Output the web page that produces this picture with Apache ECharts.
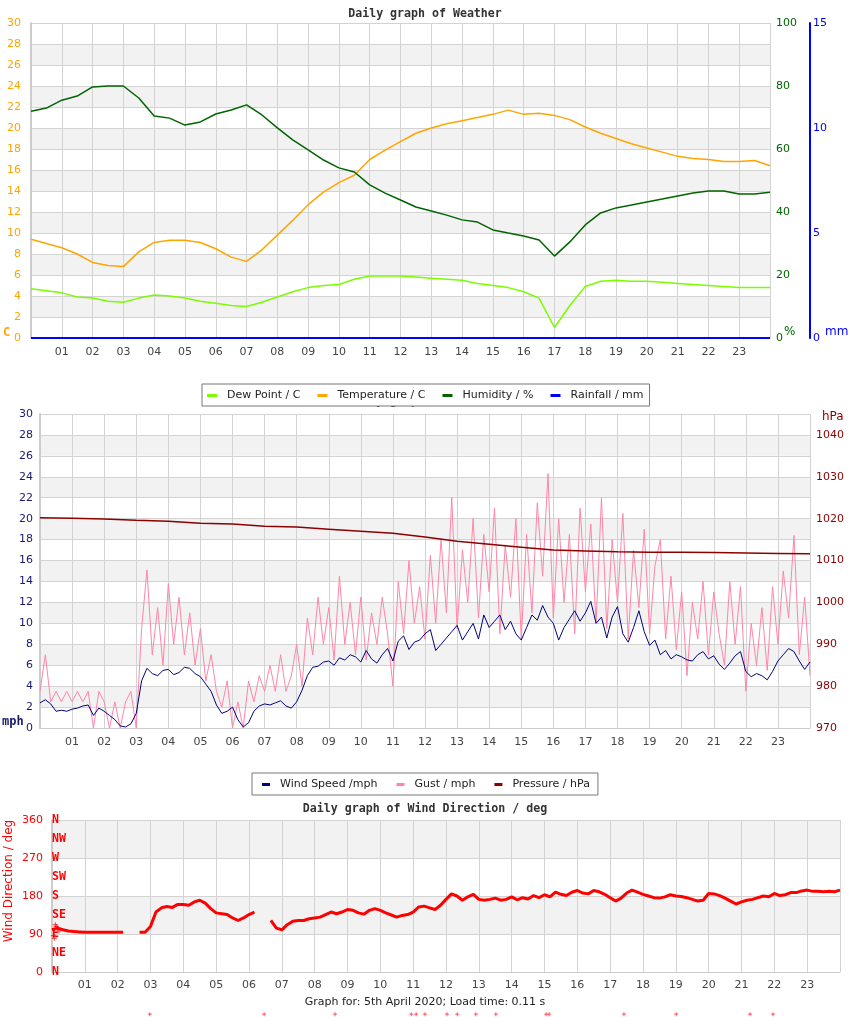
<!DOCTYPE html>
<html><head><meta charset="utf-8">
<script src="https://cdn.jsdelivr.net/npm/echarts@6/dist/echarts.min.js"></script>
<style>html,body{margin:0;padding:0;background:#fff}#c{width:850px;height:1017px}</style>
</head><body><div id="c"></div>
<script>
// ---------- DATA ----------
const hourLabels = ['01','02','03','04','05','06','07','08','09','10','11','12','13','14','15','16','17','18','19','20','21','22','23'];

// 30-minute readings, 00:00 .. 24:00
const dewPoint = [4.7,4.5,4.3,3.9,3.8,3.5,3.4,3.8,4.1,4.0,3.8,3.5,3.3,3.1,3.0,3.4,3.9,4.4,4.8,5.0,5.1,5.6,5.9,5.9,5.9,5.8,5.7,5.6,5.5,5.2,5.0,4.8,4.4,3.8,1.0,3.1,4.9,5.4,5.5,5.4,5.4,5.3,5.2,5.1,5.0,4.9,4.8,4.8,4.8];
const temperature = [9.4,9.0,8.6,8.0,7.2,6.9,6.8,8.2,9.1,9.3,9.3,9.1,8.5,7.7,7.3,8.4,9.8,11.2,12.7,13.9,14.8,15.5,17.0,17.9,18.7,19.5,20.0,20.4,20.7,21.0,21.3,21.7,21.3,21.4,21.2,20.8,20.1,19.5,19.0,18.5,18.1,17.7,17.3,17.1,17.0,16.8,16.8,16.9,16.4];
const humidity = [72,73,75.5,76.8,79.7,80,80,76.2,70.5,69.8,67.6,68.6,71.1,72.4,74,70.8,66.7,62.9,59.7,56.5,54,52.7,48.6,46,43.8,41.6,40.3,39,37.5,36.8,34.3,33.3,32.4,31.1,26,30.5,35.9,39.7,41.3,42.2,43.2,44.1,45.1,46,46.7,46.7,45.7,45.7,46.3];
// hourly
const rainfall = [0,0,0,0,0,0,0,0,0,0,0,0,0,0,0,0,0,0,0,0,0,0,0,0,0];
const pressure = [1020.2,1020.1,1019.9,1019.6,1019.4,1018.9,1018.7,1018.2,1018.0,1017.5,1017.0,1016.5,1015.6,1014.6,1013.9,1013.2,1012.5,1012.3,1012.1,1012.0,1011.95,1011.9,1011.8,1011.7,1011.6];
// 10-minute readings, 00:00 .. 24:00
const windSpeed = [2.4,2.7,2.3,1.6,1.7,1.6,1.8,1.9,2.1,2.2,1.2,1.9,1.6,1.2,0.8,0.2,0.1,0.4,1.4,4.5,5.7,5.2,5.0,5.5,5.6,5.1,5.3,5.8,5.7,5.2,4.9,4.2,3.5,2.2,1.4,1.6,2.0,0.8,0.1,0.5,1.6,2.1,2.3,2.2,2.4,2.6,2.1,1.9,2.5,3.6,5.0,5.8,5.9,6.3,6.4,6.0,6.7,6.5,7.0,6.8,6.3,7.4,6.6,6.2,7.0,7.6,6.4,8.3,8.8,7.5,8.2,8.4,9.0,9.4,7.4,8.0,8.6,9.2,9.8,8.4,9.2,10.0,8.5,10.8,9.6,10.2,10.8,9.4,10.2,9.0,8.4,9.6,10.8,10.3,11.7,10.6,10.0,8.4,9.6,10.4,11.2,10.2,11.0,12.1,10.0,10.6,8.6,10.6,11.6,9.0,8.2,9.6,11.2,9.2,7.9,8.4,7.0,7.4,6.6,7.0,6.8,6.5,6.4,7.0,7.3,6.6,6.9,6.1,5.6,6.2,6.9,7.3,5.4,4.9,5.2,5.0,4.6,5.4,6.4,7.0,7.6,7.3,6.4,5.6,6.3];
const gust = [3.5,7.0,2.5,3.5,2.5,3.5,2.5,3.5,2.5,3.5,0.0,3.5,2.5,0.0,2.5,0.0,2.5,3.5,0.0,9.5,15.1,7.0,11.5,6.0,13.8,8.0,12.5,7.0,11.0,6.0,9.5,4.5,7.0,3.5,2.0,4.5,0.0,2.5,0.0,4.5,2.5,5.0,3.5,6.0,3.5,7.0,3.5,5.0,8.0,4.0,10.5,7.0,12.5,8.0,11.5,6.5,14.5,8.0,12.0,7.0,12.5,6.5,11.0,8.0,12.5,9.0,4.0,14.0,9.0,16.0,10.0,13.5,8.5,16.5,10.0,18.0,11.0,22.0,9.5,17.0,12.0,20.0,10.5,18.5,13.0,21.0,9.0,17.5,12.5,20.0,8.5,18.5,11.0,21.5,14.5,24.3,10.5,20.0,12.0,18.5,9.0,21.0,13.0,19.5,10.0,22.0,9.5,18.0,12.0,20.5,8.5,17.0,11.5,19.0,9.0,15.5,18.0,8.5,14.5,7.5,13.0,5.0,12.0,8.5,14.0,7.0,13.0,9.0,6.0,14.0,8.0,13.5,3.5,10.0,6.0,11.5,5.5,13.5,8.0,15.0,10.5,18.4,7.0,12.5,5.0];
const windDir = [100,104,100,97,96,95,94,94,94,94,94,94,94,94,null,null,94,94,108,142,152,155,153,160,160,158,166,170,163,150,140,138,136,128,122,128,136,142,null,null,122,104,100,112,120,122,122,126,128,130,136,142,138,142,148,146,140,137,146,150,146,140,135,130,134,136,142,154,156,152,148,158,172,185,180,170,178,184,172,170,172,175,170,172,178,171,176,173,181,176,183,178,189,184,181,189,193,187,185,193,190,184,176,168,175,187,194,189,184,180,176,175,178,183,180,179,176,172,168,170,186,185,181,175,168,161,166,170,172,176,180,178,186,181,183,188,188,192,194,191,191,190,191,190,194];
// stray wind-direction readings
const windDirStrayHours = [0.04,0.07,0.10,0.13,0.17,0.21];
const windDirStrayValues = [86,80,112,108,104,97];
const windDirOutlierHours = [2.98,6.46,8.62,10.94,11.09,11.36,12.03,12.34,12.91,13.52,15.05,15.14,17.42,19.01,21.26,21.96];
const windDirOutlierValues = [-100,-100,-100,-100,-100,-100,-100,-100,-100,-100,-100,-100,-100,-100,-100,-100];
const compassLabels = ['N','NE','E','SE','S','SW','W','NW','N'];

// ---------- CHART ----------
const pairs = (arr, step) => arr.map((v, i) => [i * step, v]);
const zip = (xs, ys) => xs.map((x, i) => [x, ys[i]]);
const F = 'DejaVu Sans';
const MONO = 'DejaVu Sans Mono';
const grayLine = '#d3d3d3';
const bands = ['#ffffff', '#f2f2f2'];
const plus = 'path://M2,0H3V2H5V3H3V5H2V3H0V2H2Z';

function xAxisFor(gi, margin) {
  return {
    type: 'value', gridIndex: gi, min: 0, max: 24, interval: 1,
    axisLine: { show: true, lineStyle: { color: '#cccccc', width: 1 } },
    axisTick: { show: false },
    axisLabel: { color: '#444', fontFamily: F, fontSize: 11, margin: margin,
      formatter: v => (v >= 1 && v <= 23) ? hourLabels[v - 1] : '' },
    splitLine: { show: true, lineStyle: { color: grayLine, width: 1 } }
  };
}

const chart = echarts.init(document.getElementById('c'), null, { renderer: 'canvas' });
chart.setOption({
  animation: false,
  backgroundColor: '#fff',
  textStyle: { fontFamily: F },
  title: [
    { text: 'Daily graph of Weather', left: 'center', top: 8, padding: 0, z: 1,
      textStyle: { fontFamily: MONO, fontWeight: 'bold', fontSize: 11.6, color: '#333' } },
    { text: 'Daily graph of Weather', left: 'center', top: 395, padding: 0, z: 1,
      textStyle: { fontFamily: MONO, fontWeight: 'bold', fontSize: 11.6, color: '#333' } },
    { text: 'Daily graph of Wind Direction / deg', left: 'center', top: 803, padding: 0, z: 1,
      textStyle: { fontFamily: MONO, fontWeight: 'bold', fontSize: 11.6, color: '#333' } }
  ],
  legend: [
    { data: ['Dew Point / C', 'Temperature / C', 'Humidity / %', 'Rainfall / mm'],
      left: 202, top: 384, padding: [6, 6, 5, 5], itemWidth: 10, itemHeight: 3, itemGap: 17,
      icon: 'rect', borderColor: '#777', borderWidth: 1, backgroundColor: '#fff', z: 20,
      textStyle: { fontFamily: F, fontSize: 11, color: '#222', padding: [0, 0, 0, 5] } },
    { data: ['Wind Speed /mph', 'Gust / mph', 'Pressure / hPa'],
      left: 252, top: 773, padding: [6, 8, 5, 10], itemWidth: 8, itemHeight: 3, itemGap: 19,
      icon: 'rect', borderColor: '#777', borderWidth: 1, backgroundColor: '#fff', z: 20,
      textStyle: { fontFamily: F, fontSize: 11, color: '#222', padding: [0, 0, 0, 5] } }
  ],
  grid: [
    { left: 31, top: 23, width: 739, height: 315, containLabel: false, outerBoundsMode: 'none' },
    { left: 40, top: 414, width: 770, height: 314, containLabel: false, outerBoundsMode: 'none' },
    { left: 52, top: 820, width: 788, height: 152, containLabel: false, outerBoundsMode: 'none' }
  ],
  xAxis: [xAxisFor(0, 9), xAxisFor(1, 9), xAxisFor(2, 8)],
  yAxis: [
    { type: 'value', gridIndex: 0, position: 'left', min: 0, max: 30, interval: 2,
      axisLine: { show: true, lineStyle: { color: '#cccccc', width: 2 } }, axisTick: { show: false },
      axisLabel: { color: '#ffa500', fontSize: 11, fontFamily: F, margin: 10 },
      splitLine: { show: true, lineStyle: { color: grayLine } },
      splitArea: { show: true, areaStyle: { color: bands } } },
    { type: 'value', gridIndex: 0, position: 'right', min: 0, max: 100, interval: 20,
      axisLine: { show: false }, axisTick: { show: false },
      axisLabel: { color: '#006400', fontSize: 11, fontFamily: F, margin: 6 },
      splitLine: { show: false } },
    { type: 'value', gridIndex: 0, position: 'right', offset: 40, min: 0, max: 15, interval: 5,
      axisLine: { show: true, lineStyle: { color: '#0000ff', width: 2 } }, axisTick: { show: false },
      axisLabel: { color: '#0000ff', fontSize: 11, fontFamily: F, margin: 3 },
      splitLine: { show: false } },
    { type: 'value', gridIndex: 1, position: 'left', min: 0, max: 30, interval: 2,
      axisLine: { show: true, lineStyle: { color: '#cccccc', width: 2 } }, axisTick: { show: false },
      axisLabel: { color: '#191970', fontSize: 11, fontFamily: F, margin: 7 },
      splitLine: { show: true, lineStyle: { color: grayLine } },
      splitArea: { show: true, areaStyle: { color: bands } } },
    { type: 'value', gridIndex: 1, position: 'right', min: 970, max: 1045, interval: 10,
      axisLine: { show: false }, axisTick: { show: false },
      axisLabel: { color: '#8b0000', fontSize: 11, fontFamily: F, margin: 6,
        formatter: v => (v % 10 === 0 ? String(v) : '') },
      splitLine: { show: false } },
    { type: 'value', gridIndex: 2, position: 'left', min: 0, max: 360, interval: 90,
      axisLine: { show: true, lineStyle: { color: '#cccccc', width: 2 } }, axisTick: { show: false },
      axisLabel: { color: '#ff0000', fontSize: 11, fontFamily: F, margin: 9 },
      splitLine: { show: true, lineStyle: { color: grayLine } },
      splitArea: { show: true, areaStyle: { color: bands } } },
    { type: 'value', gridIndex: 2, position: 'left', min: 0, max: 360, interval: 45,
      axisLine: { show: false }, axisTick: { show: false },
      axisLabel: { inside: true, margin: 0, color: '#ff0000', fontFamily: MONO, fontWeight: 'bold', fontSize: 11.6,
        formatter: v => compassLabels[Math.round(v / 45)] },
      splitLine: { show: false }, splitArea: { show: false } }
  ],
  series: [
    { name: 'Dew Point / C', type: 'line', xAxisIndex: 0, yAxisIndex: 0, data: pairs(dewPoint, 0.5),
      showSymbol: false, color: '#7cfc00', lineStyle: { width: 1.5, color: '#7cfc00' } },
    { name: 'Temperature / C', type: 'line', xAxisIndex: 0, yAxisIndex: 0, data: pairs(temperature, 0.5),
      showSymbol: false, color: '#ffa500', lineStyle: { width: 1.5, color: '#ffa500' } },
    { name: 'Humidity / %', type: 'line', xAxisIndex: 0, yAxisIndex: 1, data: pairs(humidity, 0.5),
      showSymbol: false, color: '#006400', lineStyle: { width: 1.5, color: '#006400' } },
    { name: 'Rainfall / mm', type: 'line', xAxisIndex: 0, yAxisIndex: 2, data: pairs(rainfall, 1),
      showSymbol: false, color: '#0000ff', lineStyle: { width: 2, color: '#0000ff' } },

    { name: 'Gust / mph', type: 'line', xAxisIndex: 1, yAxisIndex: 3, data: pairs(gust, 1 / 6),
      showSymbol: false, color: '#ff85a8', lineStyle: { width: 1, color: '#ff85a8' } },
    { name: 'Wind Speed /mph', type: 'line', xAxisIndex: 1, yAxisIndex: 3, data: pairs(windSpeed, 1 / 6),
      showSymbol: false, color: '#000080', lineStyle: { width: 1, color: '#000080' } },
    { name: 'Pressure / hPa', type: 'line', xAxisIndex: 1, yAxisIndex: 4, data: pairs(pressure, 1),
      showSymbol: false, color: '#8b0000', lineStyle: { width: 1.5, color: '#8b0000' } },

    { name: 'Wind Direction', type: 'line', xAxisIndex: 2, yAxisIndex: 5, data: pairs(windDir, 1 / 6),
      showSymbol: false, connectNulls: false, color: '#ff0000', lineStyle: { width: 3, color: '#ff0000' } },
    { name: 'Wind Direction stray', type: 'scatter', xAxisIndex: 2, yAxisIndex: 5,
      data: zip(windDirStrayHours, windDirStrayValues), symbol: plus, symbolSize: 5,
      itemStyle: { color: '#ff0000' } },
    { name: 'Wind Direction outliers', type: 'scatter', xAxisIndex: 2, yAxisIndex: 5, clip: false,
      data: zip(windDirOutlierHours, windDirOutlierValues), symbol: plus, symbolSize: 4,
      itemStyle: { color: '#ff0000' } }
  ],
  graphic: [
    { type: 'text', left: 3, top: 327, style: { text: 'C', fill: '#ffa500', font: 'bold 12px "DejaVu Sans Mono"' } },
    { type: 'text', left: 784, top: 326, style: { text: '%', fill: '#006400', font: '12px "DejaVu Sans"' } },
    { type: 'text', left: 825, top: 326, style: { text: 'mm', fill: '#0000ff', font: '12px "DejaVu Sans"' } },
    { type: 'text', left: 2, top: 716, style: { text: 'mph', fill: '#191970', font: 'bold 12px "DejaVu Sans Mono"' } },
    { type: 'text', left: 822, top: 411, style: { text: 'hPa', fill: '#8b0000', font: '12px "DejaVu Sans"' } },
    { type: 'text', x: 9, y: 881, rotation: Math.PI / 2,
      style: { text: 'Wind Direction / deg', fill: '#ff0000', font: '12px "DejaVu Sans"', textAlign: 'center', textVerticalAlign: 'middle' } },
    { type: 'text', left: 'center', top: 997, style: { text: 'Graph for: 5th April 2020; Load time: 0.11 s', fill: '#222', font: '11px "DejaVu Sans"' } }
  ]
});
</script>
</body></html>
